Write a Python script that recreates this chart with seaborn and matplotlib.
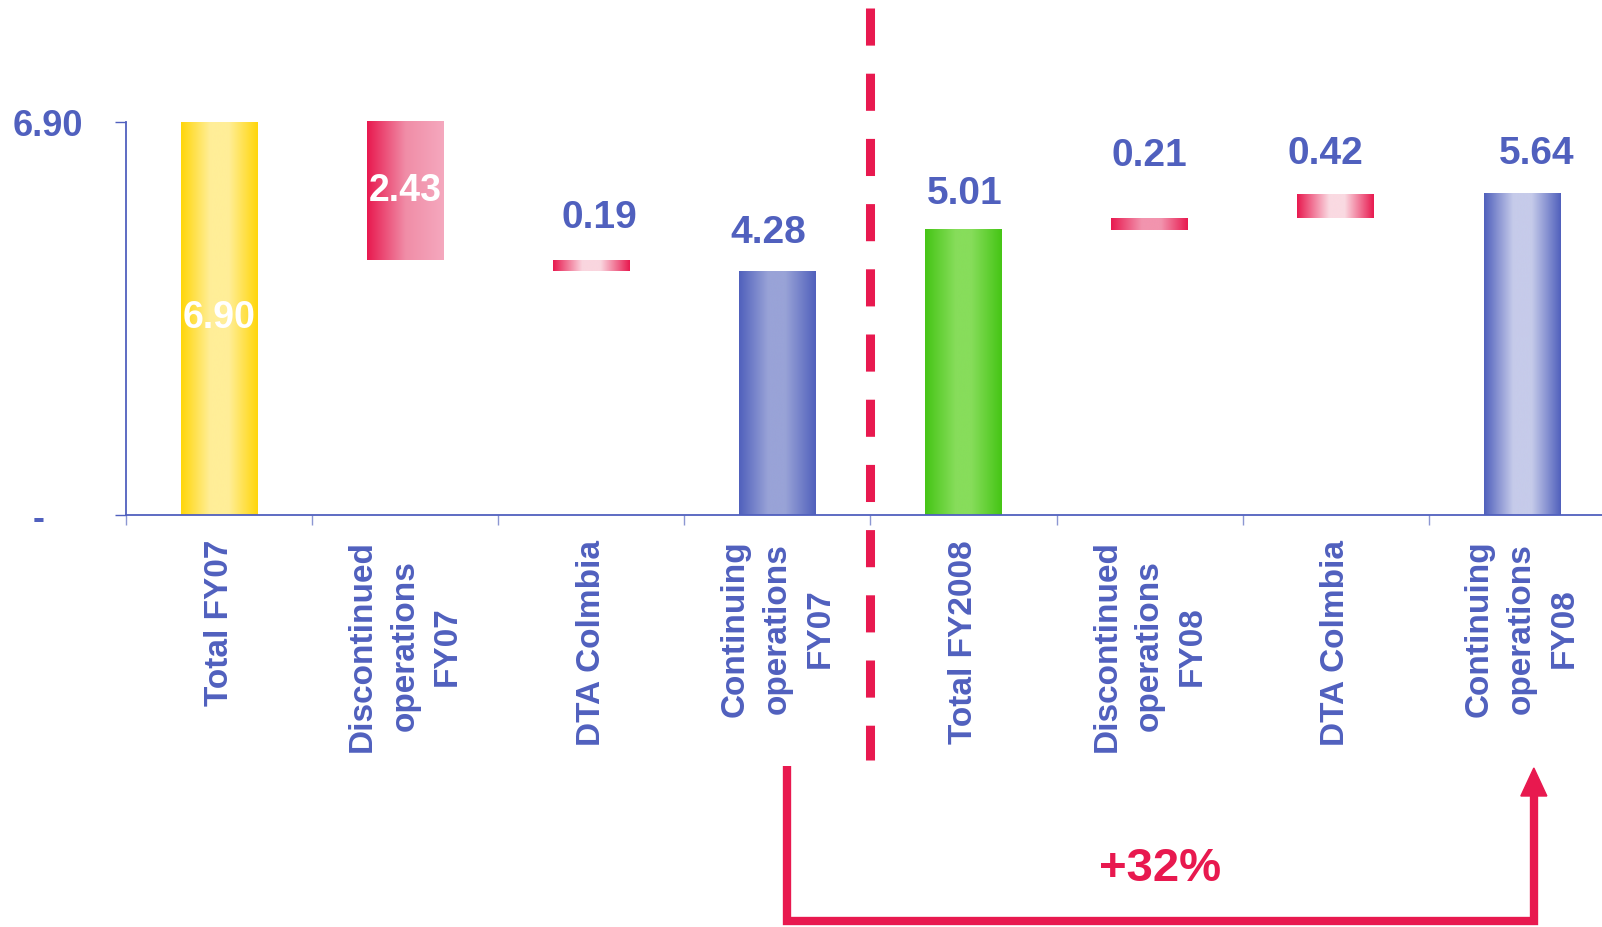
import numpy as np
import pandas as pd
import matplotlib
matplotlib.use("Agg")
import matplotlib.pyplot as plt
import seaborn as sns
from matplotlib.colors import LinearSegmentedColormap
from matplotlib.transforms import blended_transform_factory, ScaledTranslation
from matplotlib.patches import Polygon

# ---------------- data ----------------
step_labels = ["Total FY07", "Discontinued\noperations\nFY07", "DTA Colmbia",
               "Continuing\noperations\nFY07", "Total FY2008",
               "Discontinued\noperations\nFY08", "DTA Colmbia",
               "Continuing\noperations\nFY08"]
step_values = [6.90, -2.43, -0.19, 4.28, 5.01, 0.21, 0.42, 5.64]
step_kinds = ["total", "delta", "delta", "total", "total", "delta", "delta", "total"]
y_tick_values = [0.0, 6.90]
y_tick_labels = ["-", "6.90"]

# ---------------- style ----------------
BLUE = "#5060BE"
RED = "#E8194F"
gradients = [
    [(0, "#FFD60A"), (0.38, "#FFEE98"), (0.62, "#FFEE98"), (1, "#FFD60A")],
    [(0, "#E8194F"), (0.5, "#F08DA7"), (1, "#F5A8BE")],
    [(0, "#E8194F"), (0.38, "#FAD6DF"), (0.62, "#FAD6DF"), (1, "#E8194F")],
    [(0, "#5060BC"), (0.38, "#99A3D7"), (0.6, "#99A3D7"), (1, "#5060BC")],
    [(0, "#45C515"), (0.4, "#87DD5B"), (0.6, "#87DD5B"), (1, "#45C515")],
    [(0, "#E8194F"), (0.4, "#F294AE"), (0.65, "#F294AE"), (1, "#E8194F")],
    [(0, "#E8194F"), (0.42, "#FADAE2"), (0.62, "#FADAE2"), (1, "#E8194F")],
    [(0, "#5060BC"), (0.38, "#C6CBEA"), (0.62, "#C6CBEA"), (1, "#5060BC")],
]
label_inside = [True, True, False, False, False, False, False, False]
label_dx_px = [0, 0, 8, -9, 1, 0, -10, 15]
label_dy_px = [0, 0, 42, 38, 36, 62, 40, 40]

sns.set_theme(style="white")
plt.rcParams["font.family"] = ["Liberation Sans", "DejaVu Sans"]
plt.rcParams["font.weight"] = "bold"

# waterfall geometry from the values
bottoms, heights = [], []
level = 0.0
for v, k in zip(step_values, step_kinds):
    if k == "total":
        bottoms.append(0.0)
        heights.append(v)
        level = v
    else:
        new_level = level + v
        bottoms.append(min(level, new_level))
        heights.append(abs(v))
        level = new_level

df = pd.DataFrame({"step": list(range(len(step_values))), "height": heights})

W, H = 1602, 927
fig = plt.figure(figsize=(W / 100, H / 100), dpi=100)
ax = fig.add_axes([126 / W, 1 - 515 / H, 1 - 126 / W, 515 / H])

sns.barplot(data=df, x="step", y="height", ax=ax, width=0.41,
            color="white", saturation=1, legend=False)

xlim = (-0.5, (W - 126) / 186.1 - 0.5)
ylim = (0, 6.90 * 515 / 393)

for i, p in enumerate(ax.patches[:len(step_values)]):
    p.set_y(bottoms[i])
    x0, w = p.get_x(), p.get_width()
    y0, h = bottoms[i], heights[i]
    cmap = LinearSegmentedColormap.from_list(f"g{i}", gradients[i])
    grad = np.linspace(0, 1, 256)[np.newaxis, :]
    ax.imshow(grad, extent=[x0, x0 + w, y0, y0 + h], aspect="auto",
              cmap=cmap, origin="lower", interpolation="bicubic", zorder=2)
    p.set_facecolor("none")
    p.set_edgecolor("none")
    # value labels
    txt = f"{abs(step_values[i]):.2f}"
    xc = x0 + w / 2
    if label_inside[i]:
        ax.text(xc, y0 + h / 2, txt, color="white", ha="center", va="center",
                fontsize=27, fontweight="bold", zorder=5)
    else:
        ax.annotate(txt, xy=(xc, y0 + h),
                    xytext=(label_dx_px[i] * 0.72, label_dy_px[i] * 0.72),
                    textcoords="offset points", ha="center", va="center",
                    fontsize=28, fontweight="bold", color=BLUE, zorder=5)

ax.set_xlim(*xlim)
ax.set_ylim(*ylim)
ax.set_xlabel("")
ax.set_ylabel("")

# spines
for s in ["top", "right"]:
    ax.spines[s].set_visible(False)
for s in ["left", "bottom"]:
    ax.spines[s].set_color(BLUE)
    ax.spines[s].set_linewidth(1.3)
ax.spines["left"].set_bounds(0, 6.90)

# y ticks
ax.set_yticks(y_tick_values)
ax.set_yticklabels(y_tick_labels)
ax.tick_params(axis="y", direction="out", length=8, width=1.0, color=BLUE,
               pad=23, labelsize=26, labelcolor=BLUE, left=True)
for lab in ax.get_yticklabels():
    lab.set_fontweight("bold")

# x ticks: boundaries as major ticks, labels on minor ticks
n = len(step_values)
bounds = np.arange(-0.5, n - 0.5, 1.0)
ax.set_xticks(bounds, labels=[""] * len(bounds))
ax.set_xticks(np.arange(n), minor=True)
ax.set_xticklabels(step_labels, minor=True, rotation=90, fontsize=24,
                   fontweight="bold", color=BLUE, linespacing=1.48)
ax.tick_params(axis="x", which="major", direction="out", length=7.5,
               width=1.0, color="#8C97D2", bottom=True)
ax.tick_params(axis="x", which="minor", length=0, pad=18, bottom=True)

fig.canvas.draw()
minus_lab = ax.get_yticklabels()[0]
minus_lab.set_transform(minus_lab.get_transform()
                        + ScaledTranslation(-38 / 100, 0, fig.dpi_scale_trans))

# dashed divider between FY07 and FY08
bt = blended_transform_factory(ax.transData, fig.transFigure)
ax.plot([3.5, 3.5], [1 - 8 / H, 1 - 760 / H], transform=bt, color=RED,
        lw=6.5, dashes=(37 / 9, 28 / 9), solid_capstyle="butt",
        dash_capstyle="butt", clip_on=False, zorder=1)

# growth bracket
growth = (step_values[7] / step_values[3] - 1) * 100
xl, xr = 3 + 0.05, 7 + 0.065
y_top_l, y_bot, y_head_base, y_tip = 1 - 766 / H, 1 - 921 / H, 1 - 796 / H, 1 - 768 / H
ax.plot([xl, xl, xr, xr], [y_top_l, y_bot, y_bot, y_head_base], transform=bt,
        color=RED, lw=6, solid_joinstyle="miter", solid_capstyle="butt",
        clip_on=False)
hw = 13 / 186.1
ax.add_patch(Polygon([[xr - hw, y_head_base], [xr + hw, y_head_base], [xr, y_tip]],
                     closed=True, transform=bt, color=RED, clip_on=False))
ax.text((xl + xr) / 2, 1 - 869 / H, f"+{growth:.0f}%", transform=bt,
        ha="center", va="center", fontsize=34, fontweight="bold", color=RED)

fig.savefig("out.png", dpi=100)
